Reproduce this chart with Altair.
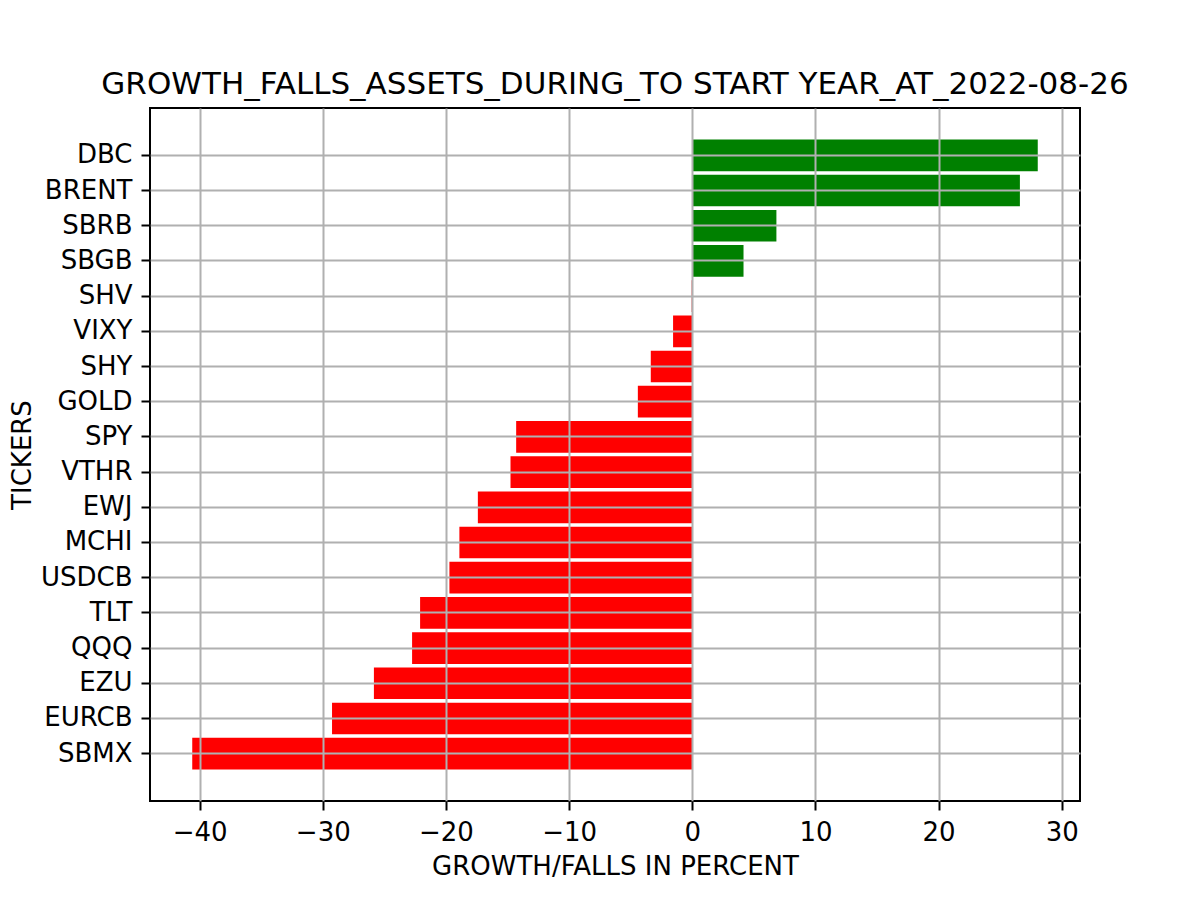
import altair as alt
import pandas as pd

tickers = ["DBC", "BRENT", "SBRB", "SBGB", "SHV", "VIXY", "SHY", "GOLD", "SPY",
           "VTHR", "EWJ", "MCHI", "USDCB", "TLT", "QQQ", "EZU", "EURCB", "SBMX"]
values = [28.05, 26.6, 6.83, 4.16, -0.05, -1.56, -3.37, -4.42, -14.3,
          -14.76, -17.41, -18.91, -19.72, -22.1, -22.75, -25.85, -29.25, -40.6]
x_ticks = [-40, -30, -20, -10, 0, 10, 20, 30]

df = pd.DataFrame({"ticker": tickers, "value": values})
df["sign"] = ["pos" if v > 0 else "neg" for v in values]

FONT = "DejaVu Sans"

chart = alt.Chart(df).mark_bar().encode(
    x=alt.X("value:Q",
            scale=alt.Scale(domain=[-44.03, 31.48], nice=False, zero=False),
            axis=alt.Axis(title="GROWTH/FALLS IN PERCENT", values=x_ticks,
                          labelExpr="replace(format(datum.value, 'd'), '-', '\u2212')",
                          grid=True, gridColor="#b0b0b0", gridWidth=2,
                          domain=False, ticks=True, tickSize=9, tickWidth=2,
                          tickColor="black", labelPadding=9, labelFontSize=26,
                          labelFont=FONT, labelColor="black", titleFont=FONT,
                          titleFontSize=26, titleFontWeight="normal",
                          titleColor="black", titlePadding=8, zindex=1)),
    y=alt.Y("ticker:N", sort=tickers,
            scale=alt.Scale(paddingInner=0.1, paddingOuter=0.895),
            axis=alt.Axis(title="TICKERS", bandPosition=0.5,
                          grid=True, gridColor="#b0b0b0", gridWidth=2,
                          domain=False, ticks=True, tickSize=9, tickWidth=2,
                          tickColor="black", labelPadding=9, labelFontSize=26,
                          labelFont=FONT, labelColor="black", titleFont=FONT,
                          titleFontSize=26, titleFontWeight="normal",
                          titleColor="black", titlePadding=5, zindex=1)),
    color=alt.Color("sign:N",
                    scale=alt.Scale(domain=["pos", "neg"], range=["#008000", "#ff0000"]),
                    legend=None),
).properties(
    width=930,
    height=693,
    title=alt.TitleParams(
        "GROWTH_FALLS_ASSETS_DURING_TO START YEAR_AT_2022-08-26",
        font=FONT, fontSize=31, fontWeight="normal", color="black",
        anchor="middle", baseline="alphabetic", frame="group", offset=-17),
    autosize=alt.AutoSizeParams(type="none"),
    padding={"left": 142, "top": 100, "right": 100, "bottom": 80},
    background="white",
).configure_view(
    stroke="black", strokeWidth=2
)

chart.save("out.html", embed_options={"renderer": "svg", "actions": False})
